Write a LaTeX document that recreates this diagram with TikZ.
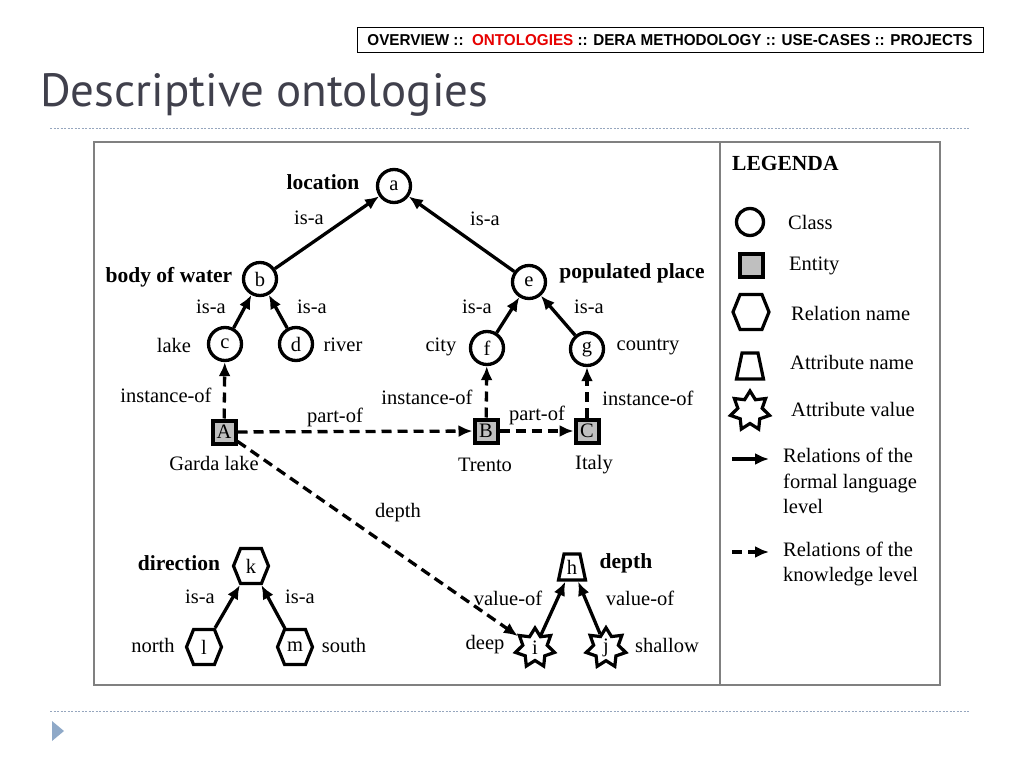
\documentclass[tikz,border=0pt]{standalone}
\usepackage{graphicx}
\usepackage{fontspec}
\setmainfont{Liberation Serif}
\newfontfamily\navfont{Liberation Sans}
\newfontfamily\titlefont{PT Sans}
\usetikzlibrary{arrows.meta}
\usetikzlibrary{shapes.geometric}
\usetikzlibrary{shapes.symbols}
\definecolor{FrameGray}{RGB}{128,128,128}
\definecolor{EntGray}{RGB}{191,191,191}
\definecolor{TitleGray}{RGB}{64,64,76}
\definecolor{RuleBlue}{RGB}{150,166,190}
\definecolor{MarkBlue}{RGB}{143,169,200}
\definecolor{NavRed}{RGB}{230,0,0}
\tikzstyle{ClassNode}=[circle, draw=black, line width=3.3pt, minimum size=33pt, inner sep=0pt]
\tikzstyle{EntityNode}=[rectangle, draw=black, line width=4pt, fill=EntGray, minimum size=23pt, inner sep=0pt]
\tikzstyle{RelNode}=[signal, signal to=east and west, signal pointer angle=136, draw=black, line width=3.2pt, minimum width=35pt, minimum height=35pt, inner sep=0pt]
\tikzstyle{AttrNode}=[trapezium, trapezium angle=76, trapezium stretches=true, draw=black, line width=3.2pt, minimum width=27pt, minimum height=26pt, inner sep=0pt]
\tikzstyle{ValueNode}=[star, star points=7, star point ratio=1.6, draw=black, line width=3.2pt, minimum size=40pt, inner sep=0pt]
\tikzstyle{BoldLabel}=[font=\fontsize{21.5}{24}\selectfont\bfseries]
\tikzstyle{FormalEdge}=[->, line width=3.3pt]
\tikzstyle{KnowEdge}=[FormalEdge, dash pattern=on 10pt off 6pt]
\tikzset{>={Latex[length=14pt,width=12pt]}}

\begin{document}
\begin{tikzpicture}[x=1pt, y=-1pt, font=\fontsize{20.5}{24}\selectfont]
\useasboundingbox (0,0) rectangle (1023,767);

% slide header
\node[draw, line width=1pt, minimum width=626pt, minimum height=25pt, inner sep=0pt](NAV) at (670,40) {\resizebox{605pt}{11pt}{\navfont\bfseries OVERVIEW ::\ \ \textcolor{NavRed}{ONTOLOGIES} :: DERA METHODOLOGY :: USE-CASES :: PROJECTS}};
\node[anchor=base west, text=TitleGray, inner sep=0pt](TITLE) at (40,107) {\resizebox{448pt}{33pt}{\titlefont\fontsize{50}{50}\selectfont Descriptive ontologies}};
\draw[RuleBlue, line width=0.8pt, dash pattern=on 2pt off 1.5pt] (50,128) -- (970,128);
\draw[RuleBlue, line width=0.8pt, dash pattern=on 2pt off 1.5pt] (50,711) -- (970,711);
\fill[MarkBlue] (52,721) -- (64,731) -- (52,741) -- cycle;

% frame
\draw[FrameGray, line width=2.6pt] (94,142) rectangle (940,685);
\draw[FrameGray, line width=2.6pt] (720,142) -- (720,685);

% classes
\node[ClassNode](a) at (394,186) {a};
\node[ClassNode](b) at (260,279) {b};
\node[ClassNode](c) at (225,344) {c};
\node[ClassNode](d) at (296,344) {d};
\node[ClassNode](e) at (529,282) {e};
\node[ClassNode](f) at (487,348) {f};
\node[ClassNode](g) at (587,349) {g};
% entities
\node[EntityNode](EntA) at (224,432) {A};
\node[EntityNode](EntB) at (486,431) {B};
\node[EntityNode](EntC) at (587,431) {C};
% relations and attributes
\node[RelNode](k) at (251,566) {k};
\node[RelNode](l) at (204,647) {l};
\node[RelNode](m) at (295,647) {m};
\node[AttrNode](h) at (572,567) {h};
\node[ValueNode](i) at (535,648) {i};
\node[ValueNode](j) at (606,648) {j};

% names
\node[BoldLabel](LOC) at (323,182) {location};
\node[BoldLabel](BOW) at (169,277) {body of water};
\node[BoldLabel](POP) at (632,273) {populated place};
\node(LAKE) at (174,345) {lake};
\node(RIVER) at (343,345) {river};
\node(CITY) at (441,347) {city};
\node(COUNTRY) at (648,347) {country};
\node(GARDA) at (214,463) {Garda lake};
\node(TRENTO) at (485,465) {Trento};
\node(ITALY) at (594,465) {Italy};
\node[BoldLabel](DIR) at (179,563) {direction};
\node(NORTH) at (153,645) {north};
\node(SOUTH) at (344,645) {south};
\node[BoldLabel](DEPTH) at (626,563) {depth};
\node(DEEP) at (485,645) {deep};
\node(SHALLOW) at (667,645) {shallow};

% edge labels
\node(IsA1) at (309,218) {is-a};
\node(IsA2) at (485,219) {is-a};
\node(IsA3) at (211,307) {is-a};
\node(IsA4) at (312,307) {is-a};
\node(IsA5) at (477,307) {is-a};
\node(IsA6) at (589,307) {is-a};
\node(Inst1) at (166,395) {instance-of};
\node(Inst2) at (427,397) {instance-of};
\node(Inst3) at (648,398) {instance-of};
\node(Part1) at (335,417) {part-of};
\node(Part2) at (537,415) {part-of};
\node(DepthL) at (398,513) {depth};
\node(IsA7) at (200,597) {is-a};
\node(IsA8) at (300,597) {is-a};
\node(Val1) at (508,598) {value-of};
\node(Val2) at (640,598) {value-of};

% edges
\draw[FormalEdge](b) -- (a);
\draw[FormalEdge](e) -- (a);
\draw[FormalEdge](c) -- (b);
\draw[FormalEdge](d) -- (b);
\draw[FormalEdge](f) -- (e);
\draw[FormalEdge](g) -- (e);
\draw[KnowEdge](EntA) -- (c);
\draw[KnowEdge](EntB) -- (f);
\draw[KnowEdge](EntC) -- (g);
\draw[KnowEdge](EntA) -- (EntB);
\draw[KnowEdge](EntB) -- (EntC);
\draw[KnowEdge](EntA) -- (i);
\draw[FormalEdge](l) -- (k);
\draw[FormalEdge](m) -- (k);
\draw[FormalEdge](i) -- (h);
\draw[FormalEdge](j) -- (h);

% legend
\node[BoldLabel, anchor=west, inner sep=0pt](LEG) at (732,163) {LEGENDA};
\node[ClassNode, minimum size=27pt](LegClass) at (750,222) {};
\node[EntityNode](LegEnt) at (751,266) {};
\node[RelNode, minimum width=36pt, minimum height=35pt](LegRel) at (751,312) {};
\node[AttrNode](LegAttr) at (750,366) {\phantom{h}};
\node[ValueNode](LegVal) at (750,411) {};
\node[anchor=west, inner sep=0pt](LegClassT) at (788,222) {Class};
\node[anchor=west, inner sep=0pt](LegEntT) at (789,266) {Entity};
\node[anchor=west, inner sep=0pt](LegRelT) at (791,313) {Relation name};
\node[anchor=west, inner sep=0pt](LegAttrT) at (790,362) {Attribute name};
\node[anchor=west, inner sep=0pt](LegValT) at (791,409) {Attribute value};
\coordinate(LegF1) at (732,459);
\coordinate(LegF2) at (769,459);
\coordinate(LegK1) at (732,552);
\coordinate(LegK2) at (769,552);
\draw[FormalEdge](LegF1) -- (LegF2);
\draw[KnowEdge](LegK1) -- (LegK2);
\node[anchor=west, align=left, inner sep=0pt, font=\fontsize{20.5}{25.8}\selectfont](LegFT) at (783,481) {Relations of the\\formal language\\level};
\node[anchor=west, align=left, inner sep=0pt, font=\fontsize{20.5}{25.5}\selectfont](LegKT) at (783,564) {Relations of the\\knowledge level};
\end{tikzpicture}
\end{document}
